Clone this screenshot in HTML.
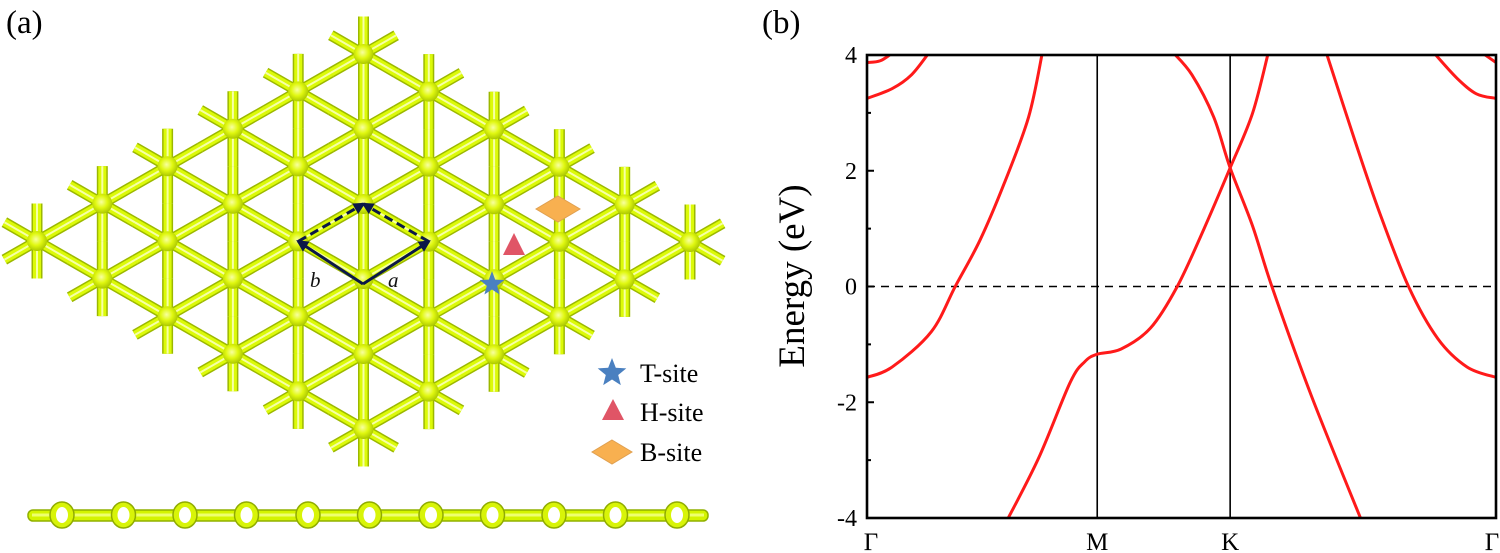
<!DOCTYPE html>
<html><head><meta charset="utf-8"><style>
html,body{margin:0;padding:0;background:#fff;}
svg, svg text{font-family:"Liberation Serif","Times New Roman",serif;}
svg{display:block;}
</style></head><body>
<svg id="root" width="1500" height="553" viewBox="0 0 1500 553" xmlns="http://www.w3.org/2000/svg" font-family="Liberation Serif, serif">
<defs>
<radialGradient id="atomg" cx="0.45" cy="0.42" r="0.6">
<stop offset="0" stop-color="#f8ffa0"/><stop offset="0.5" stop-color="#e0f810"/><stop offset="1" stop-color="#a8c400"/>
</radialGradient>
<clipPath id="plotclip"><rect x="867" y="55" width="629" height="463"/></clipPath>
<marker id="arr" viewBox="0 0 10 10" refX="8" refY="5" markerWidth="4" markerHeight="4" orient="auto"><path d="M0,0 L10,5 L0,10 z" fill="#0b1848"/></marker>
</defs>
<text x="6" y="33" font-size="33">(a)</text>
<g id="lattice"></g>
<g id="cell"></g>
<text x="310" y="287" font-size="21" font-style="italic" fill="#111">b</text>
<text x="388" y="287" font-size="21" font-style="italic" fill="#111">a</text>
<polygon points="558,196 580,209 558,222 536,209" fill="#f8b050" stroke="#e0a050"/>
<polygon points="514,233 525,255 503,255" fill="#e05566"/>
<g>
<polygon id="star1" fill="#4a80c0"/>
<text x="640" y="382" font-size="26">T-site</text>
<polygon points="613,399 624,420 602,420" fill="#e05566"/>
<text x="640" y="421" font-size="26">H-site</text>
<polygon points="612,440 632,452 612,464 592,452" fill="#f8b050" stroke="#e0a050"/>
<text x="640" y="461" font-size="26">B-site</text>
</g>
<polygon id="star2" fill="#4a80c0"/>
<g id="side"></g>

<text x="762" y="33" font-size="33">(b)</text>
<g id="plot"></g>
</svg>
<script>
const NS="http://www.w3.org/2000/svg";
function mk(tag,attrs,parent){const e=document.createElementNS(NS,tag);for(const k in attrs)e.setAttribute(k,attrs[k]);parent.appendChild(e);return e;}
function starPts(cx,cy,R,r){let p=[];for(let i=0;i<10;i++){const a=-Math.PI/2+i*Math.PI/5;const rr=i%2?r:R;p.push((cx+rr*Math.cos(a)).toFixed(1)+","+(cy+rr*Math.sin(a)).toFixed(1));}return p.join(" ");}
document.getElementById('star1').setAttribute('points',starPts(612,373,15,6.5));
document.getElementById('star2').setAttribute('points',starPts(492,284,13,5.5));

const L=document.getElementById('lattice');
const ox=37,oy=241,ux=65.3,uy=-37.4,vx=65.3,vy=37.6;
function pos(i,j){return [ox+i*ux+j*vx, oy+i*uy+j*vy];}
const dirs=[[1,0],[-1,0],[0,1],[0,-1],[1,-1],[-1,1]];
const layers=[["#9cb800",11],["#dcfa08",8],["#f6ffa8",2]];
layers.forEach(([c,w])=>{
  for(let i=0;i<6;i++)for(let j=0;j<6;j++){
    const [x,y]=pos(i,j);
    dirs.forEach(([di,dj])=>{
      const [x2,y2]=pos(i+di,j+dj);
      const ln=mk('line',{x1:x,y1:y,x2:(x+x2)/2,y2:(y+y2)/2,stroke:c,'stroke-width':w},L);
      
      
    });
  }
});
for(let i=0;i<6;i++)for(let j=0;j<6;j++){
  const [x,y]=pos(i,j);
  const a=mk('circle',{cx:x,cy:y,r:10,fill:'url(#atomg)'},L);
  
  
}
const C=document.getElementById('cell');
const pB=[363,284],pL=pos(2,2),pR=pos(3,3),pT=pos(3,2);
[[pB,pL,false],[pB,pR,false],[pL,pT,true],[pR,pT,true]].forEach(([p,q,d])=>{
  const ln=mk('line',{x1:p[0],y1:p[1],x2:q[0],y2:q[1],stroke:'#0b1848','stroke-width':3,'marker-end':'url(#arr)'},C);
  if(d)ln.setAttribute('stroke-dasharray','9 5');
  
  
});
const S=document.getElementById('side');
mk('rect',{x:28,y:510,width:680,height:11,rx:5,fill:'#d4f400',stroke:'#90b000','stroke-width':1.5},S);
mk('line',{x1:32,y1:515,x2:704,y2:515,stroke:'#eeff70','stroke-width':3},S);
for(let k=0;k<11;k++){
  const cx=62+k*61.5;
  const o=mk('ellipse',{cx:cx,cy:515,rx:12,ry:13,fill:'#d8f408',stroke:'#90ac00','stroke-width':1.5},S);
  
  
  mk('ellipse',{cx:cx,cy:515,rx:6,ry:8,fill:'#fff'},S);
}

// ---- band structure ----
const kTicks=[0,0.866,1.366,2.366];
const kLabels=["Γ","M","K","Γ"];
const yTicks=[-4,-2,0,2,4];
const yMinor=[-3,-1,1,3];
const bandA=[[0,-1.57],[0.095,-1.39],[0.242,-0.78],[0.333,0.01],[0.425,0.80],[0.516,1.78],[0.608,2.93],[0.66,4.05]];
const bandB=[[0.52,-4.1],[0.645,-2.97],[0.764,-1.66],[0.819,-1.30],[0.866,-1.17],[0.956,-1.08],[1.066,-0.72],[1.167,0],[1.267,0.99],[1.366,2.05],[1.45,2.99],[1.51,4.05]];
const bandC=[[1.15,4.05],[1.222,3.66],[1.304,2.93],[1.366,2.05],[1.45,1.05],[1.523,0],[1.67,-1.87],[1.865,-4.1]];
const bandD=[[1.727,4.05],[1.836,2.51],[1.927,1.29],[2.037,0],[2.147,-0.90],[2.257,-1.39],[2.366,-1.57]];
const bandE=[[0,3.25],[0.095,3.42],[0.168,3.66],[0.235,4.05]];
const bandF=[[0,3.87],[0.05,3.9],[0.1,4.05]];
const bandG=[[2.13,4.05],[2.219,3.60],[2.292,3.33],[2.366,3.25]];
const bandH=[[2.31,4.05],[2.366,3.87]];
const bands=[bandA,bandB,bandC,bandD,bandE,bandF,bandG,bandH];

const X0=867,X1=1496,Y0=518,Y1=55;
const kMax=2.366,eMin=-4,eMax=4;
const sx=k=>X0+(k/kMax)*(X1-X0);
const sy=e=>Y0-(e-eMin)/(eMax-eMin)*(Y0-Y1);
const P=document.getElementById('plot');
const z=mk('line',{x1:X0,y1:sy(0),x2:X1,y2:sy(0),stroke:'#000','stroke-width':1.6,'stroke-dasharray':'8 6'},P);


kTicks.slice(1,3).forEach(k=>{
  const v=mk('line',{x1:sx(k),y1:Y1,x2:sx(k),y2:Y0,stroke:'#000','stroke-width':1.6},P);
  
  
});
const bg=mk('g',{'clip-path':'url(#plotclip)'},P);
function smooth(pts){
  const q=pts.map(p=>[sx(p[0]),sy(p[1])]);
  let d="M"+q[0][0]+","+q[0][1];
  for(let i=0;i<q.length-1;i++){
    const p0=q[Math.max(0,i-1)],p1=q[i],p2=q[i+1],p3=q[Math.min(q.length-1,i+2)];
    const c1=[p1[0]+(p2[0]-p0[0])/6,p1[1]+(p2[1]-p0[1])/6];
    const c2=[p2[0]-(p3[0]-p1[0])/6,p2[1]-(p3[1]-p1[1])/6];
    d+=` C${c1[0]},${c1[1]} ${c2[0]},${c2[1]} ${p2[0]},${p2[1]}`;
  }
  return d;
}
bands.forEach((b,i)=>{
  const p=mk('path',{d:smooth(b),fill:'none',stroke:'#ff1a1a','stroke-width':3},bg);
  
  
});
const fr=mk('rect',{x:X0,y:Y1,width:X1-X0,height:Y0-Y1,fill:'none',stroke:'#000','stroke-width':2.6},P);


yTicks.forEach(v=>{
  mk('line',{x1:X0,y1:sy(v),x2:X0+7,y2:sy(v),stroke:'#000','stroke-width':2},P);
  const t=mk('text',{x:857,y:sy(v)+8,'font-size':24,'text-anchor':'end','font-family':'Liberation Serif, serif'},P);
  t.textContent=v;
  
  
});
yMinor.forEach(v=>{
  mk('line',{x1:X0,y1:sy(v),x2:X0+4,y2:sy(v),stroke:'#000','stroke-width':2},P);
});
kTicks.forEach((k,i)=>{
  const t=mk('text',{x:sx(k)+(i==0?4:i==3?-4:0),y:550,'font-size':25,'text-anchor':'middle','font-family':'Liberation Serif, serif'},P);
  t.textContent=kLabels[i];
  
  
});
const yt=mk('text',{x:0,y:0,'font-size':37,'text-anchor':'middle','font-family':'Liberation Serif, serif',transform:'translate(804,276) rotate(-90)'},P);
yt.textContent="Energy (eV)";


</script>
</body></html>
